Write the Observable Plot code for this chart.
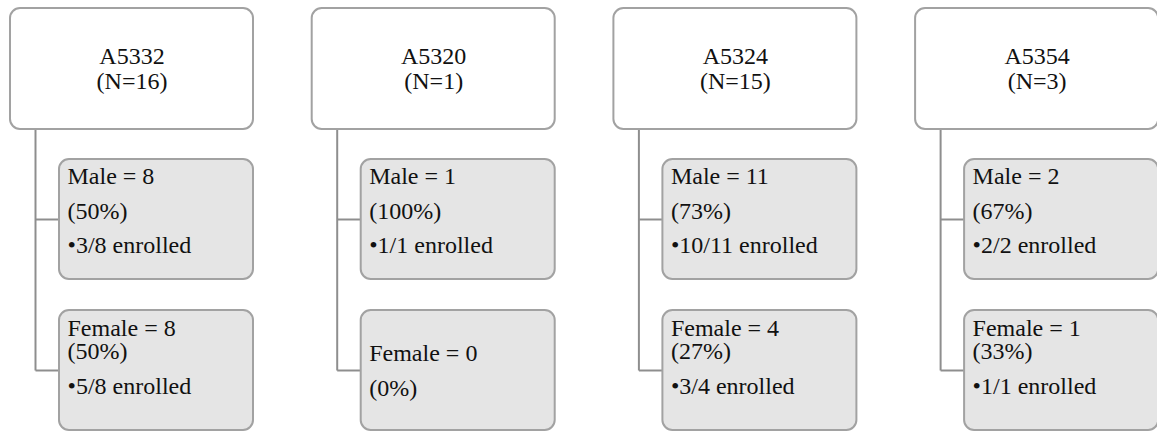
<!DOCTYPE html>
<html>
<head>
<meta charset="utf-8">
<script src="https://cdn.jsdelivr.net/npm/d3@7"></script>
<script src="https://cdn.jsdelivr.net/npm/@observablehq/plot@0.6"></script>
<style>
  html, body { margin: 0; padding: 0; background: #fff; }
  #chart svg { display: block; }
  #chart svg text { font-family: "Liberation Serif", "Tinos", "DejaVu Serif", "Times New Roman", Times, serif !important; }
</style>
</head>
<body>
<div id="chart"></div>
<script>
// ---- data ----
const arms = ["A5332", "A5320", "A5324", "A5354"];
const totals = [16, 1, 15, 3];
const maleN = [8, 1, 11, 2];
const malePct = [50, 100, 73, 67];
const maleEnrolled = ["3/8", "1/1", "10/11", "2/2"];
const femaleN = [8, 0, 4, 1];
const femalePct = [50, 0, 27, 33];
const femaleEnrolled = ["5/8", null, "3/4", "1/1"];

// ---- layout ----
const W = 1157, H = 433;
const colLeft = i => 10 + i * 301.7;
const boxW = 243;
const trunkOff = 25, childOff = 49;
const topBox = {y1: 8, y2: 129};
const maleBox = {y1: 159, y2: 279};
const femaleBox = {y1: 310, y2: 430};
const maleMid = 219, femaleMid = 370;

const boxes = [];
const links = [];
const texts = [];     // single-line texts
const tight = [];     // two-line texts with tight leading
arms.forEach((arm, i) => {
  const L = colLeft(i);
  boxes.push({x1: L, x2: L + boxW, ...topBox, fill: "#ffffff"});
  boxes.push({x1: L + childOff, x2: L + boxW, ...maleBox, fill: "#e5e5e5"});
  boxes.push({x1: L + childOff, x2: L + boxW, ...femaleBox, fill: "#e5e5e5"});
  const tx = L + trunkOff;
  links.push({x1: tx, y1: topBox.y2, x2: tx, y2: femaleMid});
  links.push({x1: tx, y1: maleMid, x2: L + childOff, y2: maleMid});
  links.push({x1: tx, y1: femaleMid, x2: L + childOff, y2: femaleMid});
  const cx = L + boxW / 2;
  texts.push({x: cx, y: 63, t: arm, anchor: "middle"});
  texts.push({x: cx, y: 88, t: `(N=${totals[i]})`, anchor: "middle"});
  const lx = L + childOff + 8;
  texts.push({x: lx, y: maleBox.y1 + 24, t: `Male = ${maleN[i]}`, anchor: "start"});
  texts.push({x: lx, y: maleBox.y1 + 59, t: `(${malePct[i]}%)`, anchor: "start"});
  texts.push({x: lx, y: maleBox.y1 + 93, t: `\u2022${maleEnrolled[i]} enrolled`, anchor: "start"});
  if (femaleEnrolled[i]) {
    tight.push({x: lx, y: femaleBox.y1 + 48, t: `Female = ${femaleN[i]}\n(${femalePct[i]}%)`});
    texts.push({x: lx, y: femaleBox.y1 + 83, t: `\u2022${femaleEnrolled[i]} enrolled`, anchor: "start"});
  } else {
    texts.push({x: lx, y: femaleBox.y1 + 50, t: `Female = ${femaleN[i]}`, anchor: "start"});
    texts.push({x: lx, y: femaleBox.y1 + 85, t: `(${femalePct[i]}%)`, anchor: "start"});
  }
});

const textOpts = (anchor) => ({
  x: "x", y: "y", text: "t",
  textAnchor: anchor, lineAnchor: "bottom",
  fontSize: 24, fill: "#111"
});

const chart = Plot.plot({
  width: W, height: H,
  margin: 0,
  x: {domain: [0, W], range: [0, W], axis: null},
  y: {domain: [0, H], range: [0, H], axis: null},
  style: {background: "#fff"},
  marks: [
    Plot.link(links, {x1: "x1", y1: "y1", x2: "x2", y2: "y2", stroke: "#8e8e8e", strokeWidth: 2}),
    Plot.rect(boxes, {x1: "x1", x2: "x2", y1: "y1", y2: "y2", fill: d => d.fill, stroke: "#a2a2a2", strokeWidth: 2, rx: 10}),
    Plot.text(texts.filter(d => d.anchor === "middle"), textOpts("middle")),
    Plot.text(texts.filter(d => d.anchor === "start"), textOpts("start")),
    Plot.text(tight, {...textOpts("start"), lineHeight: 23 / 24})
  ]
});
document.getElementById("chart").appendChild(chart);
</script>
</body>
</html>
